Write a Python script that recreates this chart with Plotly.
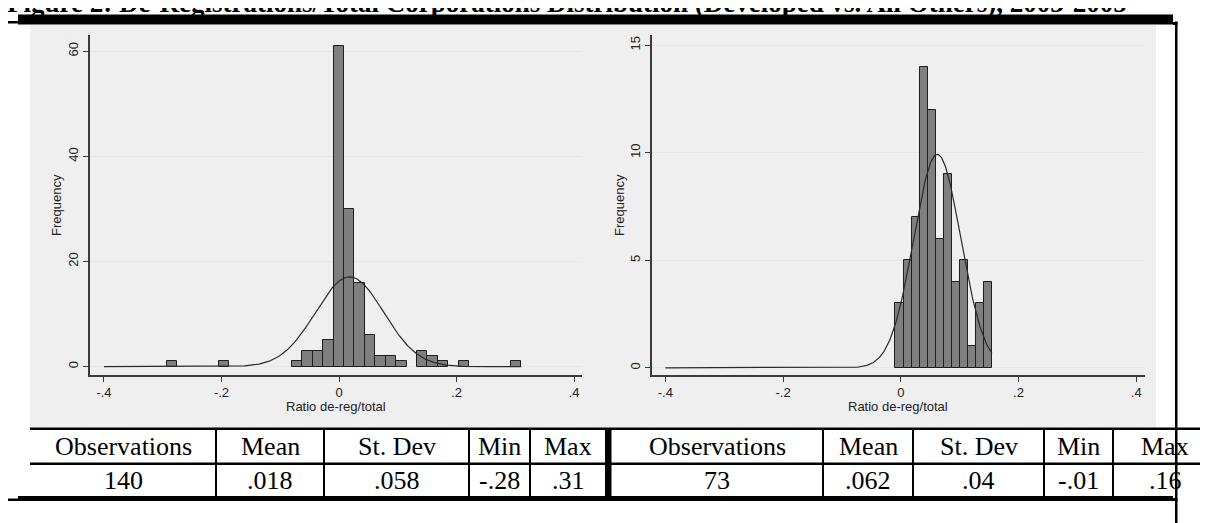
import numpy as np
import plotly.graph_objects as go

# ---------------- data ----------------
title_text = "Figure 2: De-Registrations/Total Corporations Distribution (Developed vs. All Others), 2003-2005"

# Left histogram (Developed)
left_bin_start = -0.293
left_bin_width = 0.01774
left_counts = [1, 0, 0, 0, 0, 1, 0, 0, 0, 0, 0, 0, 1, 3, 3, 5, 61, 30, 16, 6, 2, 2, 1, 0,
               3, 2, 1, 0, 1, 0, 0, 0, 0, 1]
left_n, left_mean, left_sd = 140, 0.018, 0.058
left_stats = ["140", ".018", ".058", "-.28", ".31"]

# Right histogram (All others)
right_bin_start = -0.009
right_bin_width = 0.01364
right_counts = [3, 5, 7, 14, 12, 6, 9, 4, 5, 1, 3, 4]
right_n, right_mean, right_sd = 73, 0.062, 0.04
right_stats = ["73", ".062", ".04", "-.01", ".16"]

curve_start = -0.4
table_headers = ["Observations", "Mean", "St. Dev", "Min", "Max"]
x_tickvals = [-0.4, -0.2, 0, 0.2, 0.4]
x_ticktext = ["-.4", "-.2", "0", ".2", ".4"]
left_yticks = [0, 20, 40, 60]
right_yticks = [0, 5, 10, 15]
x_title = "Ratio de-reg/total"
y_title = "Frequency"

# ---------------- layout helpers ----------------
W, H = 1208, 523
def px(x):
    return x / W
def py(y):
    return 1 - y / H

BAR_FILL = "#7f7f7f"
BAR_LINE = "#1e1e1e"
AXIS = "#3a3a3a"
GRID = "#e6e6e6"
PANEL = "#efefef"

fig = go.Figure()

def add_hist(counts, start, width, n, mean, sd, xa, ya):
    counts = np.array(counts, dtype=float)
    centers = start + width * (np.arange(len(counts)) + 0.5)
    mask = counts > 0
    fig.add_trace(go.Bar(x=centers[mask], y=counts[mask], width=width,
                         marker=dict(color=BAR_FILL, line=dict(color=BAR_LINE, width=1)),
                         xaxis=xa, yaxis=ya, showlegend=False, hoverinfo="skip"))
    end = start + width * len(counts)
    xs = np.linspace(curve_start, end, 400)
    ys = n * width * np.exp(-0.5 * ((xs - mean) / sd) ** 2) / (sd * np.sqrt(2 * np.pi))
    fig.add_trace(go.Scatter(x=xs, y=ys, mode="lines", line=dict(color="#2a2a2a", width=1.2),
                             xaxis=xa, yaxis=ya, showlegend=False, hoverinfo="skip"))

add_hist(left_counts, left_bin_start, left_bin_width, left_n, left_mean, left_sd, "x", "y")
add_hist(right_counts, right_bin_start, right_bin_width, right_n, right_mean, right_sd, "x2", "y2")

tickfont = dict(family="Liberation Sans, Arial, sans-serif", size=13, color="#222")
common_x = dict(tickvals=x_tickvals, ticktext=x_ticktext, showgrid=False, zeroline=False,
                showline=True, linecolor=AXIS, linewidth=1.6, ticks="outside", ticklen=5,
                tickwidth=1.3, tickcolor=AXIS, tickfont=tickfont)
common_y = dict(showgrid=True, gridcolor=GRID, gridwidth=1, zeroline=False, showline=True,
                linecolor=AXIS, linewidth=1.6, ticks="outside", ticklen=5, tickwidth=1.3,
                tickcolor=AXIS, tickfont=tickfont, tickangle=-90)

ydom = [py(367), py(27)]
fig.update_layout(
    width=W, height=H, autosize=False,
    margin=dict(l=0, r=0, t=0, b=0, pad=0),
    paper_bgcolor="white", plot_bgcolor="white",
    bargap=0,
    xaxis=dict(common_x, domain=[px(82), px(574)], range=[-0.4238, 0.4136], anchor="y"),
    yaxis=dict(common_y, domain=ydom, range=[-1.58, 63.1], tickvals=left_yticks, anchor="x"),
    xaxis2=dict(common_x, domain=[px(644), px(1136.7)], range=[-0.4226, 0.4143], anchor="y2"),
    yaxis2=dict(common_y, domain=ydom, range=[-0.335, 15.48], tickvals=right_yticks, anchor="x2"),
)

shapes = []
def rect(x0, y0, x1, y1, color, layer="above"):
    shapes.append(dict(type="rect", xref="paper", yref="paper", x0=px(x0), x1=px(x1),
                       y0=py(y1), y1=py(y0), fillcolor=color, line=dict(width=0), layer=layer))

# gray graph background
rect(22, 17, 1148, 419.5, PANEL, layer="below")
# top rules
rect(10, 6.5, 1165, 16.5, "black")
rect(0, 13, 11, 15.5, "black")
rect(1165, 14, 1169.5, 17, "black")
# right vertical rule
rect(1167, 13.5, 1169.5, 523, "black")
# table horizontal rules
rect(22, 419.5, 1208, 422, "black")
rect(22, 454.5, 1208, 457, "black")
rect(10, 488, 1165, 493, "black")
rect(0, 490.5, 10, 493, "black")
rect(1165, 490, 1169.5, 493, "black")
# table vertical separators
for xs in [208, 316, 461, 522, 815, 905, 1036, 1105]:
    rect(xs - 1, 420, xs + 1, 489, "black")
rect(597, 420, 603.5, 489, "black")

fig.update_layout(shapes=shapes)

ann = []
serif = "Liberation Serif, Times New Roman, serif"
ann.append(dict(text="<b>" + title_text + "</b>", xref="paper", yref="paper", x=px(-3), y=py(12),
                xanchor="left", yanchor="bottom", showarrow=False,
                font=dict(family=serif, size=27, color="black")))

left_centers = [115, 262, 388.5, 491.5, 560]
right_centers = [709, 860, 970.5, 1070.5, 1157]
for cx, h in zip(left_centers + right_centers, table_headers + table_headers):
    ann.append(dict(text=h, xref="paper", yref="paper", x=px(cx), y=py(438), xanchor="center",
                    yanchor="middle", showarrow=False, font=dict(family=serif, size=26, color="black")))
for cx, v in zip(left_centers + right_centers, left_stats + right_stats):
    ann.append(dict(text=v, xref="paper", yref="paper", x=px(cx), y=py(472), xanchor="center",
                    yanchor="middle", showarrow=False, font=dict(family=serif, size=26, color="black")))

sans = "Liberation Sans, Arial, sans-serif"
for cx in [328, 890]:
    ann.append(dict(text=x_title, xref="paper", yref="paper", x=px(cx), y=py(398), xanchor="center",
                    yanchor="middle", showarrow=False, font=dict(family=sans, size=13, color="#222")))
for cx in [48, 611]:
    ann.append(dict(text=y_title, xref="paper", yref="paper", x=px(cx), y=py(197), xanchor="center",
                    yanchor="middle", textangle=-90, showarrow=False,
                    font=dict(family=sans, size=13, color="#222")))
fig.update_layout(annotations=ann)

fig.write_html("out.html")
